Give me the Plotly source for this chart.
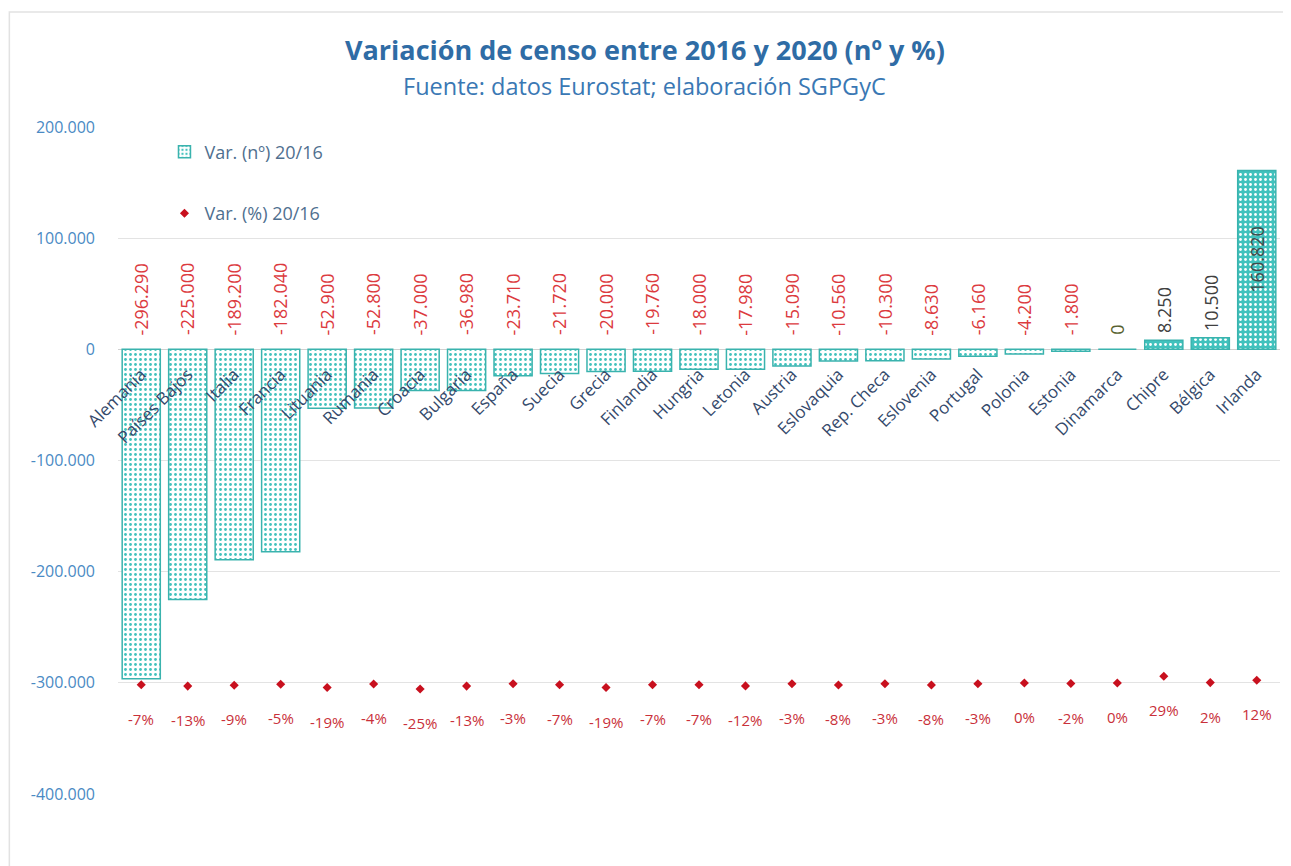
import plotly.graph_objects as go

paises = ["Alemania", "Países Bajos", "Italia", "Francia", "Lituania", "Rumania",
          "Croacia", "Bulgaria", "España", "Suecia", "Grecia", "Finlandia",
          "Hungria", "Letonia", "Austria", "Eslovaquia", "Rep. Checa", "Eslovenia",
          "Portugal", "Polonia", "Estonia", "Dinamarca", "Chipre", "Bélgica", "Irlanda"]
var_num = [-296290, -225000, -189200, -182040, -52900, -52800, -37000, -36980,
           -23710, -21720, -20000, -19760, -18000, -17980, -15090, -10560,
           -10300, -8630, -6160, -4200, -1800, 0, 8250, 10500, 160820]
var_pct = [-7, -13, -9, -5, -19, -4, -25, -13, -3, -7, -19, -7, -7, -12, -3, -8,
           -3, -8, -3, 0, -2, 0, 29, 2, 12]
y_ticks = [200000, 100000, 0, -100000, -200000, -300000, -400000]


def fmt_es(v):
    s = f"{abs(v):,}".replace(",", ".")
    return ("-" if v < 0 else "") + s


FONT = "Open Sans"
TEAL = "#41c2bd"
TEAL_LINE = "#3ab3ae"
RED_LBL = "#dc3a3e"
RED_PCT = "#c9303a"
RED_DOT = "#c8101e"

fg = ["#ffffff" if v > 0 else TEAL for v in var_num]
bg = [TEAL if v > 0 else "#ffffff" for v in var_num]

fig = go.Figure()
fig.add_trace(go.Bar(
    x=paises, y=var_num, name="Var. (nº) 20/16", legendgroup="a",
    marker=dict(color=TEAL, line=dict(color=TEAL_LINE, width=1.5),
                pattern=dict(shape=".", fgcolor=fg, bgcolor=bg, size=5,
                             solidity=0.25, fillmode="replace")),
    hoverinfo="x+y",
))
fig.add_trace(go.Scatter(
    x=paises, y=var_pct, yaxis="y2", mode="markers", name="Var. (%) 20/16",
    legendgroup="b",
    marker=dict(symbol="diamond", size=7, color=RED_DOT),
))

ann = []
for p, v in zip(paises, var_num):
    if v < 0:
        ann.append(dict(x=p, y=0, yref="y", text=fmt_es(v), textangle=-90,
                        showarrow=False, yanchor="bottom", yshift=12,
                        font=dict(family=FONT, size=18, color=RED_LBL)))
    elif v == 0:
        ann.append(dict(x=p, y=0, yref="y", text="0", textangle=-90,
                        showarrow=False, yanchor="bottom", yshift=13,
                        font=dict(family=FONT, size=18, color="#56602e")))
    elif v > 100000:
        ann.append(dict(x=p, y=v / 2, yref="y", text=fmt_es(v), textangle=-90,
                        showarrow=False, yanchor="middle",
                        font=dict(family=FONT, size=18, color="#3f4a4a")))
    else:
        ann.append(dict(x=p, y=v, yref="y", text=fmt_es(v), textangle=-90,
                        showarrow=False, yanchor="bottom", yshift=5,
                        font=dict(family=FONT, size=18, color="#404040")))

for p, v in zip(paises, var_pct):
    ann.append(dict(x=p, y=v, yref="y2", text=f"{v}%", showarrow=False,
                    yanchor="middle", yshift=-34,
                    font=dict(family=FONT, size=15, color=RED_PCT)))

ann.append(dict(xref="paper", yref="paper", x=0.4535, y=1.116,
                text="<b>Variación de censo entre 2016 y 2020 (nº y %)</b>",
                showarrow=False, xanchor="center", yanchor="middle",
                font=dict(family=FONT, size=27, color="#2f6ca5")))
ann.append(dict(xref="paper", yref="paper", x=0.4535, y=1.062,
                text="Fuente: datos Eurostat; elaboración SGPGyC",
                showarrow=False, xanchor="center", yanchor="middle",
                font=dict(family=FONT, size=23.5, color="#3a78b4")))

fig.update_layout(
    width=1283, height=858,
    margin=dict(l=110, r=11, t=119, b=72, autoexpand=False),
    paper_bgcolor="white", plot_bgcolor="white",
    bargap=0.18,
    showlegend=True,
    legend=dict(x=0.04, y=0.99, xanchor="left", yanchor="top",
                traceorder="grouped", tracegroupgap=35,
                bgcolor="rgba(0,0,0,0)",
                font=dict(family=FONT, size=18, color="#4f6f8f")),
    xaxis=dict(type="category", anchor="free", position=4 / 6,
               range=[-0.5, len(paises) - 0.5], automargin=False,
               tickangle=-45, showgrid=False, showline=False, ticks="",
               ticklabelstandoff=11,
               tickfont=dict(family=FONT, size=17, color="#34496b")),
    yaxis=dict(range=[-400000, 200000], tickvals=y_ticks,
               ticktext=[fmt_es(v) for v in y_ticks], automargin=False,
               showgrid=True, gridcolor="#e3e3e3", gridwidth=1,
               zeroline=True, zerolinecolor="#d0d0d0", zerolinewidth=1,
               ticks="", ticklabelstandoff=22,
               tickfont=dict(family=FONT, size=16, color="#4a8ac4")),
    yaxis2=dict(overlaying="y", range=[-472, 2366], visible=False),
    annotations=ann,
    shapes=[dict(type="rect", xref="paper", yref="paper",
                 x0=-0.0935, x1=1.2, y0=-0.3, y1=1.1724,
                 line=dict(color="#e2e2e2", width=1.5), layer="below")],
    font=dict(family=FONT),
)

fig.write_html("out.html")
